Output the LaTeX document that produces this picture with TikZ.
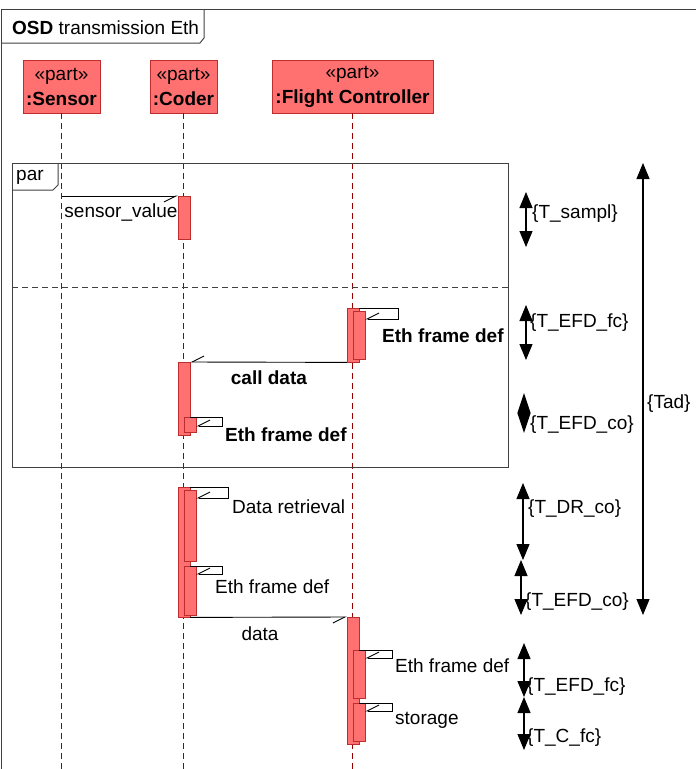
\documentclass[tikz,border=0pt]{standalone}
\usepackage{fontspec}
\setmainfont{Liberation Sans}
\usetikzlibrary{arrows.meta}
\definecolor{actfill}{RGB}{255,112,112}
\definecolor{actline}{RGB}{190,45,45}
\definecolor{lifeline}{RGB}{150,0,0}

\begin{document}
\begin{tikzpicture}[x=1pt,y=-1pt,
    font=\fontsize{19}{25}\selectfont,
    part/.style={draw=actline,fill=actfill,minimum height=53pt,inner sep=0pt,anchor=north,align=center},
    act/.style={draw=actline,fill=actfill,minimum width=12pt,inner sep=0pt,anchor=north},
    life/.style={draw=lifeline,line width=1.1pt,dash pattern=on 6pt off 4pt},
    msg/.style={line width=0.9pt,-{Straight Barb[harpoon,swap,length=12pt,width=12pt]}},
    frm/.style={draw=black!75,line width=1pt},
    dur/.style={line width=1.1pt,{Triangle[width=13pt,length=16pt]}-{Triangle[width=13pt,length=16pt]}},
    lbl/.style={inner sep=0pt,anchor=west}]
    \useasboundingbox (0,0) rectangle (696,769);

    % outer frame
    \draw[frm] (1.5,769) -- (1.5,9) -- (696,9);
    \draw[frm] (1.5,43) -- (200,43) -- (204,38) -- (204,9);
    \node[lbl] (title) at (12,28) {\textbf{OSD} transmission Eth};

    % parts
    \node[part,minimum width=77pt] (sensor) at (61.5,60) {«part»\\\textbf{:Sensor}};
    \node[part,minimum width=67pt] (coder) at (183.5,60) {«part»\\\textbf{:Coder}};
    \node[part,minimum width=161pt] (fc) at (352.5,60) {«part»\\\textbf{:Flight Controller}};

    \coordinate (sensorend) at (61.5,769);
    \coordinate (coderend) at (183.5,769);
    \coordinate (fcend) at (352.5,769);
    \draw[life] (sensor) -- (sensorend);
    \draw[life] (coder) -- (coderend);
    \draw[life] (fc) -- (fcend);

    % par fragment
    \draw[frm] (12,163) rectangle (508,467);
    \draw[frm] (12,190) -- (53,190) -- (58,185) -- (58,163);
    \node[lbl] (par) at (16,177) {par};
    \draw[frm,dash pattern=on 6pt off 4pt] (12,287) -- (508,287);

    \node[act,minimum height=43pt] (c1) at (184,196) {};
    \draw[msg] (sensor.south |- c1.north) -- (c1.north west);
    \node (sv) at (121,212) {sensor\_value};

    \node[act,minimum height=54pt] (f1) at (353,308) {};
    \node[act,minimum height=48pt] (f1s) at (359,311) {};
    \coordinate (f1loop) at (398,319);
    \draw[msg] (f1.north east) -| (f1loop) -- (f1s.east |- f1loop);
    \node[lbl] (efd1) at (382,336) {\textbf{Eth frame def}};

    \node[act,minimum height=73pt] (c2) at (184,362) {};
    \draw[msg] (f1.south west) -- (c2.north east);
    \node (cd) at (269,378) {\textbf{call data}};
    \node[act,minimum height=15pt] (c2s) at (190,417) {};
    \coordinate (c2loop) at (222,426);
    \draw[msg] (c2.east |- c2s.north) -| (c2loop) -- (c2s.east |- c2loop);
    \node[lbl] (efd2) at (225,435) {\textbf{Eth frame def}};

    % after par
    \node[act,minimum height=130pt] (c3) at (184,487) {};
    \node[act,minimum height=71pt] (c3a) at (190,490) {};
    \coordinate (c3loop) at (228,498);
    \draw[msg] (c3.north east) -| (c3loop) -- (c3a.east |- c3loop);
    \node[lbl] (dr) at (232,507) {Data retrieval};
    \node[act,minimum height=49pt] (c3b) at (190,566) {};
    \coordinate (c3loopb) at (222,574);
    \draw[msg] (c3.east |- c3b.north) -| (c3loopb) -- (c3b.east |- c3loopb);
    \node[lbl] (efd3) at (215,587) {Eth frame def};

    \node[act,minimum height=127pt] (f2) at (353,617) {};
    \draw[msg] (c3.south east) -- (f2.north west);
    \node (data) at (260,634) {data};
    \node[act,minimum height=48pt] (f2a) at (359,650) {};
    \coordinate (f2loop) at (392,658);
    \draw[msg] (f2.east |- f2a.north) -| (f2loop) -- (f2a.east |- f2loop);
    \node[lbl] (efd4) at (395,666) {Eth frame def};
    \node[act,minimum height=38pt] (f2b) at (359,703) {};
    \coordinate (f2loopb) at (392,711);
    \draw[msg] (f2.east |- f2b.north) -| (f2loopb) -- (f2b.east |- f2loopb);
    \node[lbl] (st) at (395,720) {storage};

    % durations
    \coordinate (d1a) at (526,192);  \coordinate (d1b) at (526,247);
    \coordinate (d2a) at (526,305);  \coordinate (d2b) at (526,360);
    \coordinate (d3a) at (524,393);  \coordinate (d3b) at (524,433);
    \coordinate (d4a) at (643,163);  \coordinate (d4b) at (643,615);
    \coordinate (d5a) at (523,483);  \coordinate (d5b) at (523,560);
    \coordinate (d6a) at (521,560);  \coordinate (d6b) at (521,615);
    \coordinate (d7a) at (524,643);  \coordinate (d7b) at (524,697);
    \coordinate (d8a) at (524,697);  \coordinate (d8b) at (524,750);
    \draw[dur] (d1a) -- (d1b);
    \draw[dur] (d2a) -- (d2b);
    \draw[dur,{Triangle[width=13pt,length=20pt]}-{Triangle[width=13pt,length=20pt]}] (d3a) -- (d3b);
    \draw[dur] (d4a) -- (d4b);
    \draw[dur] (d5a) -- (d5b);
    \draw[dur] (d6a) -- (d6b);
    \draw[dur] (d7a) -- (d7b);
    \draw[dur] (d8a) -- (d8b);
    \node[lbl] (t1) at (532,214) {\{T\_sampl\}};
    \node[lbl] (t2) at (530,323) {\{T\_EFD\_fc\}};
    \node[lbl] (t3) at (530,425) {\{T\_EFD\_co\}};
    \node[lbl] (t4) at (647,404) {\{Tad\}};
    \node[lbl] (t5) at (528,509) {\{T\_DR\_co\}};
    \node[lbl] (t6) at (525,602) {\{T\_EFD\_co\}};
    \node[lbl] (t7) at (527,687) {\{T\_EFD\_fc\}};
    \node[lbl] (t8) at (527,738) {\{T\_C\_fc\}};
\end{tikzpicture}
\end{document}
